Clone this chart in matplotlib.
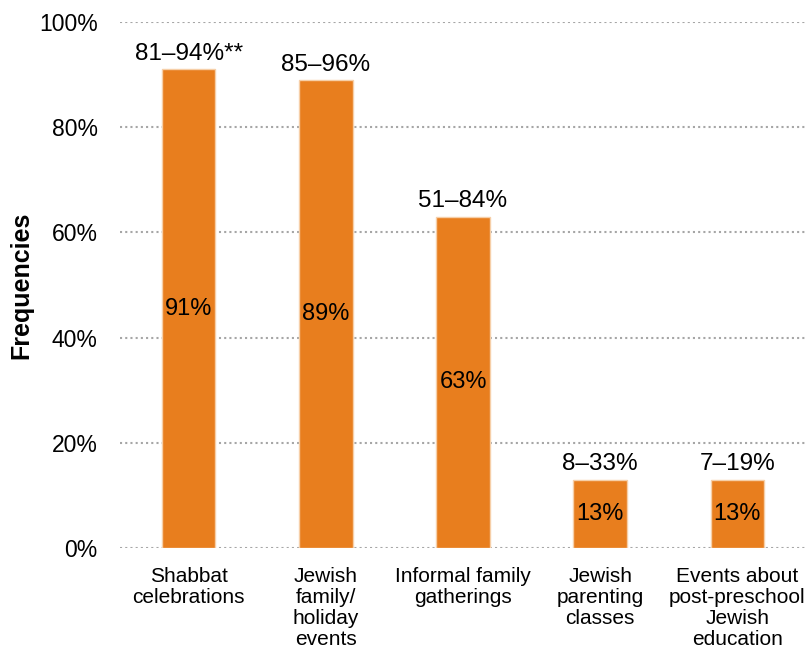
import matplotlib.pyplot as plt

plt.rcParams['font.family'] = ['Liberation Sans', 'DejaVu Sans']

# Datos
categorias = ["Shabbat\ncelebrations", "Jewish\nfamily/\nholiday\nevents",
              "Informal family\ngatherings", "Jewish\nparenting\nclasses",
              "Events about\npost-preschool\nJewish\neducation"]
frecuencias = [91, 89, 63, 13, 13]
rangos = ["81–94%**", "85–96%", "51–84%", "8–33%", "7–19%"]
yticks = [0, 20, 40, 60, 80, 100]

fig = plt.figure(figsize=(8.08, 6.57), dpi=100)
ax = fig.add_axes([120/808, 1 - 548/657, 686/808, 526/657])

x = range(len(categorias))
bars = ax.bar(x, frecuencias, width=0.39, color="#E87E1E", edgecolor="#F6CFA8",
              linewidth=1, zorder=3)

for xi, v, r in zip(x, frecuencias, rangos):
    ax.text(xi, v / 2, f"{v}%", ha="center", va="center", fontsize=17, zorder=4)
    ax.annotate(r, (xi, v), xytext=(0, 3), textcoords="offset points",
                ha="center", va="bottom", fontsize=17.5)

ax.set_xlim(-0.5, 4.5)
ax.set_ylim(0, 100)
ax.set_yticks(yticks)
ax.set_yticklabels([f"{t}%" for t in yticks], fontsize=16.5)
ax.set_xticks(list(x))
ax.set_xticklabels(categorias, fontsize=15, linespacing=1.12)
ax.tick_params(axis="both", length=0)
ax.tick_params(axis="y", pad=16)
ax.tick_params(axis="x", pad=14)
ax.yaxis.grid(True, linestyle=(0, (1, 1.5)), color="#A6A6A6", linewidth=1.5, zorder=0)
for s in ax.spines.values():
    s.set_visible(False)
ax.set_ylabel("Frequencies", fontsize=18, fontweight="bold")
ax.yaxis.set_label_coords(-0.127, 0.5)

fig.savefig("out.png", dpi=100)
